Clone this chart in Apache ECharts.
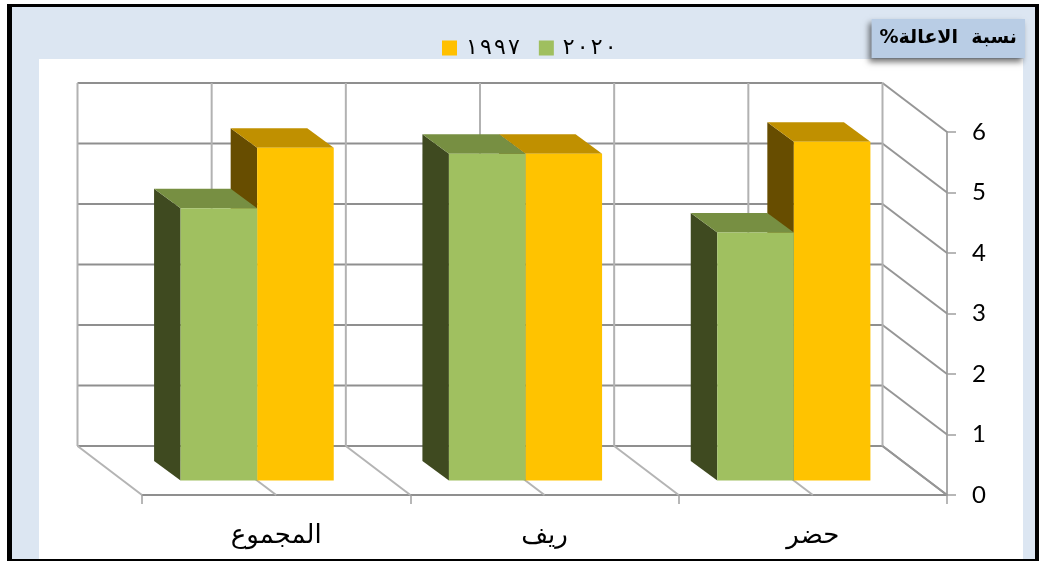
<!DOCTYPE html>
<html>
<head>
<meta charset="utf-8">
<style>
  html, body { margin: 0; padding: 0; width: 1039px; height: 561px; background: #fff; overflow: hidden; }
  #frame { position: absolute; left: 7px; top: 4px; width: 1032px; height: 557px; box-sizing: border-box; border: solid #000; border-width: 3px 4px 2px 5px; background: #dce6f2; }
  #plotBg { position: absolute; left: 39px; top: 59px; width: 984px; height: 500px; background: #fff; }
  #main { position: absolute; left: 0; top: 0; width: 1039px; height: 561px; }
</style>
</head>
<body>
<div id="frame"></div>
<div id="plotBg"></div>
<div id="main"></div>
<script src="https://cdn.jsdelivr.net/npm/echarts@6/dist/echarts.min.js"></script>
<script>
const categories = ['المجموع', 'ريف', 'حضر'];
const values1997 = [5.5, 5.4, 5.6];
const values2020 = [4.5, 5.4, 4.1];
const yTicks = [0, 1, 2, 3, 4, 5, 6];

const arabicFont = '"DejaVu Sans", sans-serif';

// fake 3d: how far the back wall, the bars and the bar sides sit from the front plane
const wallDepth = [-64.5, -49];
const barShift = [-19, -14.5];
const barDepth = [-26.5, -19.5];
const barBandRatio = 0.2854;

const chart = echarts.init(document.getElementById('main'));

function line(x1, y1, x2, y2, color, width) {
  return { type: 'line', shape: { x1, y1, x2, y2 }, style: { stroke: color, lineWidth: width }, silent: true };
}

function poly(points, color) {
  return { type: 'polygon', shape: { points }, style: { fill: color }, silent: true };
}

// horizontal lines of the back wall and their run along the side wall
function renderValueLines(params, api) {
  const rightX = api.coord([categories.length - 1, 0])[0] + api.size([1, 0])[0] / 2;
  const leftX = api.coord([0, 0])[0] - api.size([1, 0])[0] / 2;
  const y = api.coord([0, api.value(0)])[1];
  const children = [
    line(leftX + wallDepth[0], y + wallDepth[1], rightX + wallDepth[0], y + wallDepth[1], '#8f8f8f', 2),
    line(rightX + wallDepth[0], y + wallDepth[1], rightX, y, '#969696', 2)
  ];
  return { type: 'group', children };
}

// vertical lines of the back wall and their run across the floor
function renderCategoryLines(params, api) {
  const idx = api.value(0);
  const band = api.size([1, 0])[0];
  const center = api.coord([idx, 0])[0];
  const y0 = api.coord([idx, 0])[1];
  const yTop = api.coord([idx, yTicks[yTicks.length - 1]])[1];
  const xs = [center - band / 2, center];
  if (idx === categories.length - 1) xs.push(center + band / 2);
  const children = [];
  xs.forEach((x, i) => {
    const isLast = i === 2;
    children.push(line(x + wallDepth[0], yTop + wallDepth[1], x + wallDepth[0], y0 + wallDepth[1], '#b2b2b2', 2));
    children.push(line(x + wallDepth[0], y0 + wallDepth[1], x, y0, isLast ? '#969696' : '#b4b4b4', 2));
  });
  return { type: 'group', children };
}

function makeBarRenderer(side, colors) {
  return function (params, api) {
    const idx = api.value(0);
    const w = api.size([1, 0])[0] * barBandRatio;
    const center = api.coord([idx, 0])[0] + barShift[0];
    const x0 = side < 0 ? center - w : center;
    const x1 = x0 + w;
    const yb = api.coord([idx, 0])[1] + barShift[1];
    const yt = api.coord([idx, api.value(1)])[1] + barShift[1];
    const dx = barDepth[0];
    const dy = barDepth[1];
    return {
      type: 'group',
      children: [
        poly([[x0, yb], [x0 + dx, yb + dy], [x0 + dx, yt + dy], [x0, yt]], colors.side),
        poly([[x0, yt], [x0 + dx, yt + dy], [x1 + dx, yt + dy], [x1, yt]], colors.top),
        { type: 'rect', shape: { x: x0, y: yt, width: w, height: yb - yt }, style: { fill: colors.front }, silent: true }
      ]
    };
  };
}

chart.setOption({
  animation: false,
  backgroundColor: 'transparent',
  title: {
    text: 'نسبة  الاعالة%\u200F',
    right: 14,
    top: 19,
    padding: [9, 8, 9, 8],
    backgroundColor: '#b9cde5',
    shadowColor: 'rgba(0,0,0,0.55)',
    shadowBlur: 6,
    shadowOffsetX: -3,
    shadowOffsetY: 4,
    textStyle: { fontFamily: arabicFont, fontSize: 19, fontWeight: 'bold', color: '#000', lineHeight: 21 }
  },
  legend: {
    left: 437,
    top: 32,
    itemWidth: 15,
    itemHeight: 15,
    itemGap: 19,
    icon: 'rect',
    data: ['١٩٩٧', '٢٠٢٠'],
    // the reference spreads the digits out
    formatter: (name) => name.split('').join('\u200E\u200A\u200E'),
    textStyle: { fontFamily: arabicFont, fontSize: 22, color: '#000', padding: [0, 0, 6, 4] }
  },
  grid: { left: 142, right: 92, top: 132, bottom: 66 },
  xAxis: {
    type: 'category',
    data: categories,
    boundaryGap: true,
    axisLine: { lineStyle: { color: '#8f8f8f', width: 2 } },
    axisTick: { show: true, alignWithLabel: false, length: 9, lineStyle: { color: '#a0a0a0', width: 1.5 } },
    axisLabel: { margin: 28, fontFamily: arabicFont, fontSize: 26, color: '#000' },
    splitLine: { show: false }
  },
  yAxis: {
    type: 'value',
    position: 'right',
    min: 0,
    max: 6,
    interval: 1,
    axisLine: { show: true, lineStyle: { color: '#a8a8a8', width: 2 } },
    axisTick: { show: true, length: 9, lineStyle: { color: '#a0a0a0', width: 1.5 } },
    axisLabel: { margin: 25, fontFamily: 'Lato, sans-serif', fontSize: 24, color: '#000' },
    splitLine: { show: false }
  },
  series: [
    {
      type: 'custom',
      name: 'valueLines',
      renderItem: renderValueLines,
      data: yTicks.map((v) => [v]),
      encode: { y: 0 },
      z: 1
    },
    {
      type: 'custom',
      name: 'categoryLines',
      renderItem: renderCategoryLines,
      data: categories.map((c, i) => [i]),
      encode: { x: 0 },
      z: 1
    },
    {
      type: 'custom',
      name: '١٩٩٧',
      itemStyle: { color: '#ffc000' },
      renderItem: makeBarRenderer(1, { front: '#ffc300', top: '#c09000', side: '#674d00' }),
      data: values1997.map((v, i) => [i, v]),
      encode: { x: 0, y: 1 },
      z: 3
    },
    {
      type: 'custom',
      name: '٢٠٢٠',
      itemStyle: { color: '#9fbf5f' },
      renderItem: makeBarRenderer(-1, { front: '#a0c060', top: '#778f42', side: '#3f4a20' }),
      data: values2020.map((v, i) => [i, v]),
      encode: { x: 0, y: 1 },
      z: 4
    }
  ]
});
</script>
</body>
</html>
